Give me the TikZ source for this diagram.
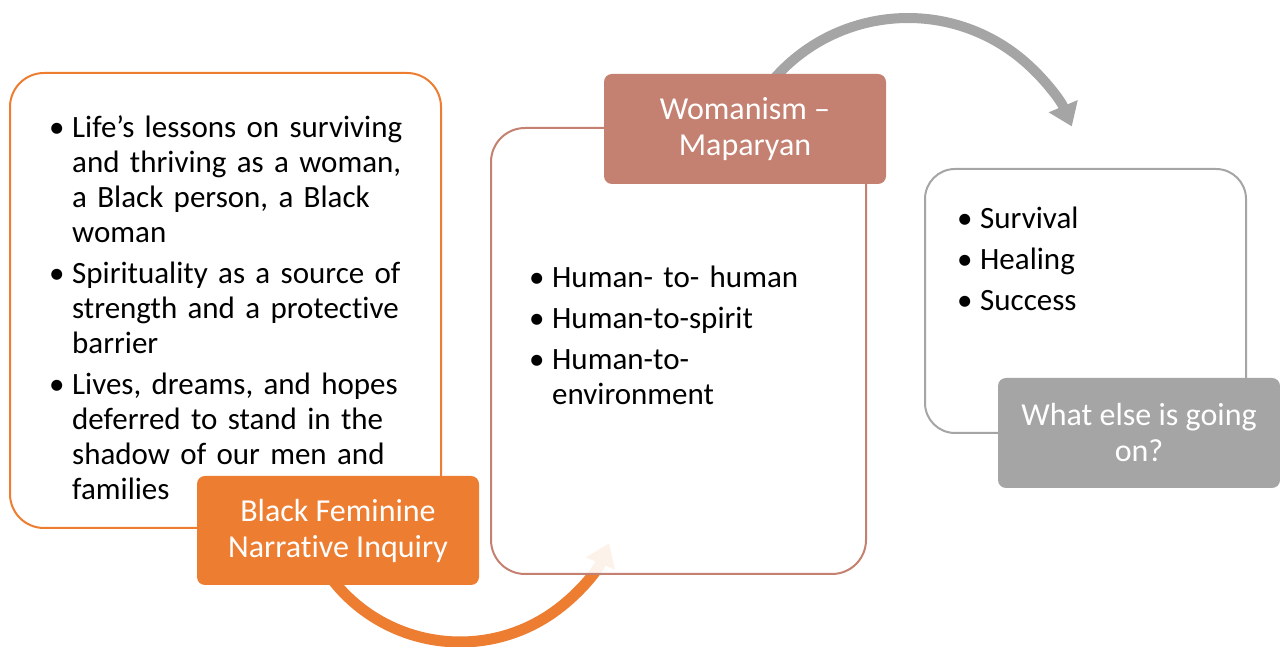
\documentclass[tikz,border=0pt]{standalone}
\usepackage{fontspec}
\setmainfont{Carlito}[Ligatures=NoCommon]
\usetikzlibrary{arrows.meta}
\definecolor{orng}{HTML}{ED7D31}
\definecolor{rose}{HTML}{C48070}
\definecolor{grey}{HTML}{A5A5A5}
\newcommand{\bitem}[1]{\par\hangindent=23pt\hangafter=1\noindent\makebox[23pt][l]{\textbullet}#1\par}

\begin{document}
\begin{tikzpicture}
                [x=1pt,y=1pt,
                box/.style={rectangle,draw,line width=2pt,rounded corners=34pt,fill=white,fill opacity=0.9,text opacity=1},
                tag/.style={rectangle,rounded corners=8pt,text=white,align=center,font=\fontsize{32}{36}\selectfont},
                bul/.style={anchor=north west,inner sep=0pt,text width=#1,align=left,font=\fontsize{31}{35}\selectfont\setlength{\parskip}{6pt}},
                flow/.style={line width=11pt,-{Triangle[width=30pt,length=22pt]}}
                ]
            \useasboundingbox (0,0) rectangle (1280,647);
            \coordinate (o0) at (327.3,74.1);
            \coordinate (g0) at (771.6,565.4);
            \draw[flow,orng] (o0) arc[start angle=215,end angle=337,radius=162];
            \draw[flow,grey,line width=10pt] (g0) arc[start angle=140,end angle=23,radius=178];
            \node[box,draw=orng,minimum width=431pt,minimum height=455pt] (b1) at (225.5,346.5) {};
            \node[tag,fill=orng,minimum width=282pt,minimum height=109pt] (l1) at (338,116.5) {Black Feminine\\Narrative Inquiry};
            \node[box,draw=rose,minimum width=375pt,minimum height=446pt] (b2) at (678.5,296) {};
            \node[tag,fill=rose,minimum width=282pt,minimum height=110pt] (l2) at (745,518) {Womanism –\\Maparyan};
            \node[box,draw=grey,minimum width=321pt,minimum height=264pt,rounded corners=30pt] (b3) at (1085.5,346) {};
            \node[tag,fill=grey,minimum width=282pt,minimum height=110pt] (l3) at (1139,214) {What else is going\\on?};
            \node[bul=400pt] (t1) at (49,551) {%
                \bitem{Life’s lessons on surviving\newline and thriving as a woman,\newline a Black person, a Black\newline woman}
                \bitem{Spirituality as a source of\newline strength and a protective\newline barrier}
                \bitem{Lives, dreams, and hopes\newline deferred to stand in the\newline shadow of our men and\newline families}};
            \node[bul=320pt] (t2) at (529,401) {%
                \bitem{Human- to- human}
                \bitem{Human-to-spirit}
                \bitem{Human-to-\newline environment}};
            \node[bul=260pt] (t3) at (957,460) {%
                \bitem{Survival}
                \bitem{Healing}
                \bitem{Success}};
            \end{tikzpicture}
\end{document}
